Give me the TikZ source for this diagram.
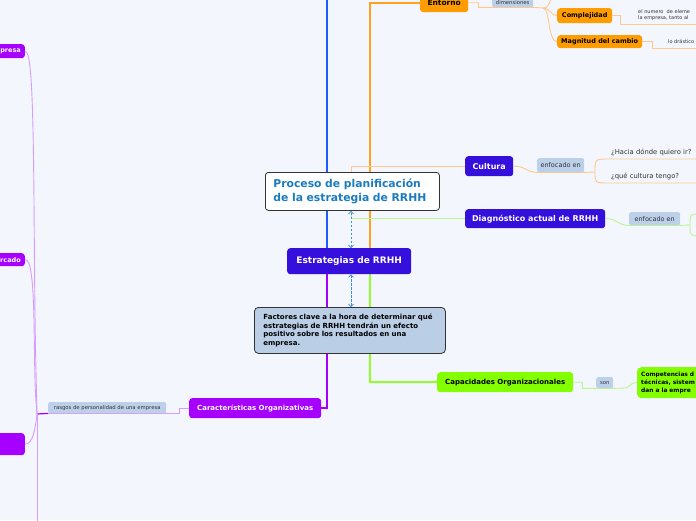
\documentclass[tikz,border=0pt]{standalone}
\usepackage{fontspec}
\setmainfont{DejaVu Sans}
\usetikzlibrary{arrows.meta,calc}

\definecolor{canvas}{HTML}{F3F6FD}
\definecolor{stratcol}{HTML}{3510DC}
\definecolor{caractcol}{HTML}{A600FF}
\definecolor{capaccol}{HTML}{84FF00}
\definecolor{entorcol}{HTML}{FF9C00}
\definecolor{tagfill}{HTML}{BDD0E9}
\definecolor{tagtext}{HTML}{333333}
\definecolor{titlecol}{HTML}{1B7BC0}
\definecolor{factfill}{HTML}{BACEE6}
\definecolor{bluestem}{HTML}{1F5CFF}
\definecolor{orangestem}{HTML}{FFA21F}
\definecolor{orangethin}{HTML}{FFC88C}
\definecolor{greenstem}{HTML}{90FF26}
\definecolor{greenthin}{HTML}{BDF590}
\definecolor{purplestem}{HTML}{A800F5}
\definecolor{purplethin}{HTML}{D79CFF}
\definecolor{dashcol}{HTML}{3B8EE0}

\pgfdeclarelayer{edges}
\pgfsetlayers{edges,main}

\begin{document}
\begin{tikzpicture}[x=1pt,y=-1pt,
  every node/.style={inner sep=0pt},
  topic/.style={rounded corners=3pt,anchor=north west,align=center,
    font=\bfseries\fontsize{8}{10}\selectfont},
  tag/.style={rounded corners=2pt,anchor=north west,fill=tagfill,text=tagtext,
    font=\fontsize{6.5}{8}\selectfont},
  smalltag/.style={tag,font=\fontsize{5.3}{6}\selectfont},
  leaf/.style={anchor=west,text=tagtext,font=\fontsize{6.8}{8}\selectfont},
  tiny/.style={anchor=north west,align=left,text=tagtext,font=\fontsize{5}{6}\selectfont},
  stem/.style={line width=1.6pt},
  twig/.style={line width=0.9pt},
  link/.style={dashcol,line width=0.7pt,dash pattern=on 2.5pt off 1.5pt,
    {Straight Barb[length=2.5pt,width=5pt]}-{Straight Barb[length=2.5pt,width=5pt]}}]
\useasboundingbox (0,0) rectangle (696,520);
\clip (0,0) rectangle (696,520);

% Central nodes.
\node[anchor=north west,draw=black!80,line width=0.8pt,fill=white,rounded corners=3pt,
  minimum width=174pt,minimum height=38pt,text width=158pt,inner xsep=8pt,align=left,
  text=titlecol,font=\bfseries\fontsize{10.8}{14}\selectfont]
  (title) at (265,172) {Proceso de planificación\\de la estrategia de RRHH};
\node[topic,fill=stratcol,text=white,minimum width=124pt,minimum height=26pt,
  font=\bfseries\fontsize{9}{11}\selectfont] (estr) at (287,248) {Estrategias de RRHH};
\node[anchor=north west,draw=black!80,line width=0.8pt,fill=factfill,rounded corners=4pt,
  minimum width=191pt,minimum height=46pt,text width=173pt,inner xsep=9pt,align=left,
  font=\bfseries\fontsize{7}{8.6}\selectfont]
  (fact) at (254,307) {Factores clave a la hora de determinar qué\\estrategias de RRHH tendrán un efecto\\positivo sobre los resultados en una\\empresa.};

% Main topics.
\node[topic,fill=entorcol,minimum width=48pt,minimum height=19pt,
  font=\bfseries\fontsize{7.5}{9}\selectfont] (entorno) at (420,-7) {Entorno};
\node[topic,fill=stratcol,text=white,minimum width=48pt,minimum height=20pt] (cultura) at (465,156) {Cultura};
\node[topic,fill=stratcol,text=white,minimum width=140pt,minimum height=19pt] (diag) at (465,209) {Diagnóstico actual de RRHH};
\node[topic,fill=capaccol,minimum width=136pt,minimum height=20pt,
  font=\bfseries\fontsize{7}{9}\selectfont] (capac) at (437,372) {Capacidades Organizacionales};
\node[topic,fill=caractcol,text=white,minimum width=132pt,minimum height=20pt,
  font=\bfseries\fontsize{7}{9}\selectfont] (caract) at (189,398) {Características Organizativas};

% Sub topics.
\node[topic,fill=entorcol,minimum width=55pt,minimum height=15pt,
  font=\bfseries\fontsize{6.5}{8}\selectfont] (compl) at (557,8) {Complejidad};
\node[topic,fill=entorcol,minimum width=85pt,minimum height=13pt,
  font=\bfseries\fontsize{6.5}{8}\selectfont] (magn) at (557,35) {Magnitud del cambio};
\node[topic,fill=capaccol,rounded corners=4pt,minimum width=80pt,minimum height=31pt,
  text width=72pt,inner xsep=4pt,align=left,font=\bfseries\fontsize{5.9}{8}\selectfont]
  (compet) at (637,367) {Competencias d\\técnicas, sistem\\dan a la empre};
\node[topic,fill=caractcol,text=white,anchor=north east,minimum height=14pt,
  inner xsep=4pt,font=\bfseries\fontsize{6.5}{8}\selectfont] (empresa) at (25,44) {presa};
\node[topic,fill=caractcol,text=white,anchor=north east,minimum height=13pt,
  inner xsep=4pt,font=\bfseries\fontsize{6.5}{8}\selectfont] (mercado) at (25,253) {rcado};
\node[topic,fill=caractcol,anchor=north east,minimum width=40pt,minimum height=22pt] (rasgo) at (25,433) {};

% Tags.
\node[smalltag,minimum width=41pt,minimum height=10pt] (dimen) at (492,-3) {dimensiones};
\node[tag,minimum width=47pt,minimum height=14pt] (enfcult) at (537,158) {enfocado en};
\node[tag,minimum width=51pt,minimum height=13pt] (enfdiag) at (629,212) {enfocado en};
\node[smalltag,minimum width=17pt,minimum height=11pt] (son) at (596,377) {son};
\node[smalltag,minimum width=118pt,minimum height=11pt] (person) at (48,402) {rasgos de personalidad de una empresa};

% Leaves.
\node[leaf] (hacia) at (611,152) {¿Hacia dónde quiero ir?};
\node[leaf] (tengo) at (611,176) {¿qué cultura tengo?};
\node[tiny] (numero) at (638,9) {el numero\ \ de eleme\\la empresa, tanto al};
\node[tiny] (drastico) at (668,39) {lo drástico};

\coordinate (bx) at (327,0);
\coordinate (ox) at (370,0);
\coordinate (cx) at (351,0);
\coordinate (lx) at (37,0);
\coordinate (fork) at (543,8);
\coordinate (brace) at (595,172);
\coordinate (junct) at (37,414);

\begin{pgfonlayer}{edges}
\fill[canvas] (0,0) rectangle (696,520);

% Stems from the strategy node.
\draw[stem,bluestem,line width=2pt] (estr.north -| bx) -- (bx);
\draw[stem,orangestem] (estr.north -| ox) |- (entorno.west);
\draw[stem,purplestem] (estr.south -| bx) |- (caract.east);
\draw[stem,greenstem] (estr.south -| ox) |- (capac.west);
\draw[twig,orangethin] (title.north -| cx) |- (cultura.west);
\draw[twig,greenthin] (title.south -| cx) |- (diag.west);

% Entorno branch.
\draw[twig,orangethin] (entorno.east) -- ++(10,0) |- (dimen.south west) -- (dimen.south east) -- (fork);
\draw[twig,orangethin] (fork) .. controls (550,8) and (550,15) .. (compl.west);
\draw[twig,orangethin] (fork) .. controls (550,8) and (548,42) .. (magn.west);
\draw[twig,orangethin] (fork) .. controls (550,8) and (550,0) .. (552,-5);
\draw[twig,orangethin] (compl.east) -- ++(8,0) |- (696,24);
\draw[twig,orangethin] (magn.east) -- ++(10,0) |- (696,48);

% Cultura branch.
\draw[twig,orangethin] (cultura.east) .. controls (527,166) and (524,172) .. (enfcult.south west)
  -- (enfcult.south east) -- (brace);
\draw[twig,orangethin] (brace) .. controls (595,159) .. (609,159) -- (696,159);
\draw[twig,orangethin] (brace) .. controls (595,183) .. (609,183) -- (696,183);

% Diagnostico branch.
\draw[twig,greenthin] (diag.east) .. controls (617,218) and (616,225) .. (enfdiag.south west)
  -- (enfdiag.south east) -- (690,225);
\draw[twig,greenthin] (690,225) .. controls (690,214) .. (700,214);
\draw[twig,greenthin] (690,225) .. controls (690,236) .. (700,236);

% Capacidades branch.
\draw[twig,greenthin] (capac.east) -- ++(9,0) |- (son.south west) -- (son.south east)
  -- (625,388) .. controls (630,388) and (630,382) .. (compet.west);

% Caracteristicas branch.
\draw[twig,purplethin] (caract.west) -- ++(-10,0) |- (person.south east) -- (person.south west);
\draw[twig,purplestem,line width=1.2pt] (person.south west) -- (junct);
\draw[twig,purplethin] (empresa.east) .. controls (31,51) and (33,90) .. (34,200)
  .. controls (35,330) .. (junct);
\draw[twig,purplethin] (mercado.east) .. controls (31,259) and (33,280) .. (34,320)
  .. controls (35,390) .. (junct);
\draw[twig,purplethin] (rasgo.east) .. controls (33,444) and (35,430) .. (junct);
\draw[twig,purplethin] (junct) -- (lx |- 0,525);

% Links between the central nodes.
\draw[link] (estr.north -| cx) -- (title.south -| cx);
\draw[link] (estr.south -| cx) -- (fact.north -| cx);
\end{pgfonlayer}

\end{tikzpicture}
\end{document}
